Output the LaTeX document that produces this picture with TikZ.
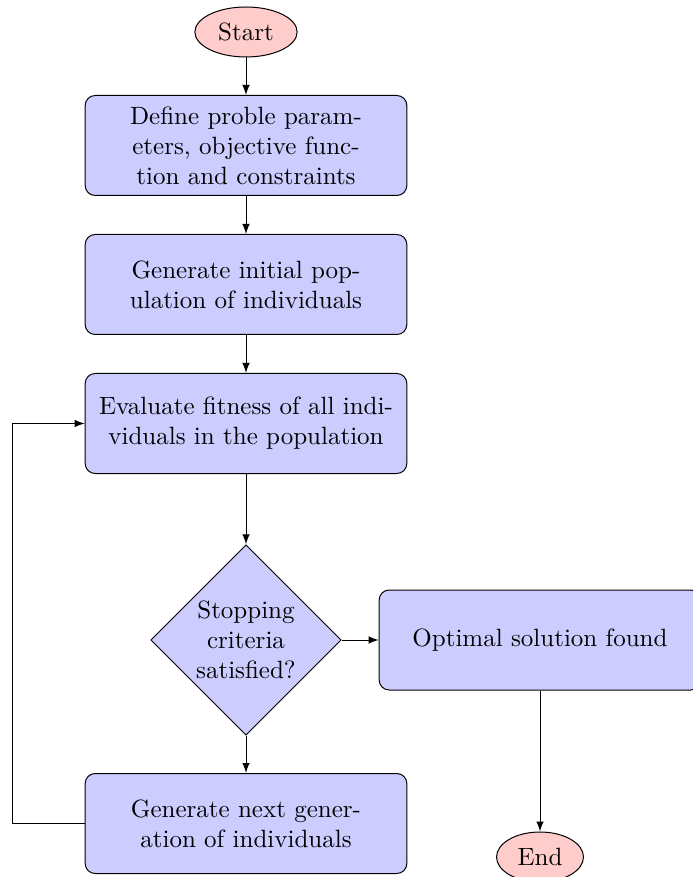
\documentclass[tikz,border=0pt]{standalone}
\usepackage{amsthm,amssymb,amsmath}
\usepackage{tikz}
\usetikzlibrary{shapes.geometric}
\pgfdeclarelayer{bg}
\pgfsetlayers{bg,main}
\tikzset{
        block/.style={rectangle, draw, fill=blue!20, text width=122pt, align=center, rounded corners, minimum height=4em},
        decision/.style={diamond, draw, fill=blue!20, text width=4.5em, align=flush center, inner sep=0pt},
        cloud/.style={ellipse, draw, fill=red!20, minimum height=2em},
        line/.style={draw, -latex}
}
\begin{document}
\begin{tikzpicture}[x=0.4pt, y=-0.4pt]
        \useasboundingbox (0,0) rectangle (692,877);
        \node (start) [cloud] at (246, 32) {Start};
        \node (define) [block] at (246, 145.5) {Define proble parameters, objective function and constraints};
        \node (init) [block] at (246, 284.5) {Generate initial population of individuals};
        \node (eval) [block] at (246, 423.5) {Evaluate fitness of all individuals in the population};
        \node (decide) [decision] at (246, 640) {Stopping criteria satisfied?};
        \node (found) [block] at (540, 640) {Optimal solution found};
        \node (next) [block] at (246, 823.5) {Generate next generation of individuals};
        \node (stop) [cloud] at (540, 857) {End};
        \coordinate (loop) at (12, 823.5);
        \begin{pgfonlayer}{bg}
                \draw (start) edge [line] (define);
                \draw (define) edge [line] (init);
                \draw (init) edge [line] (eval);
                \draw (eval) edge [line] (decide);
                \draw (decide) edge [line] (found);
                \draw (decide) edge [line] (next);
                \draw (found) edge [line] (stop);
                \draw [line] (next) -- (loop) |- (eval);
        \end{pgfonlayer}
\end{tikzpicture}
\end{document}
